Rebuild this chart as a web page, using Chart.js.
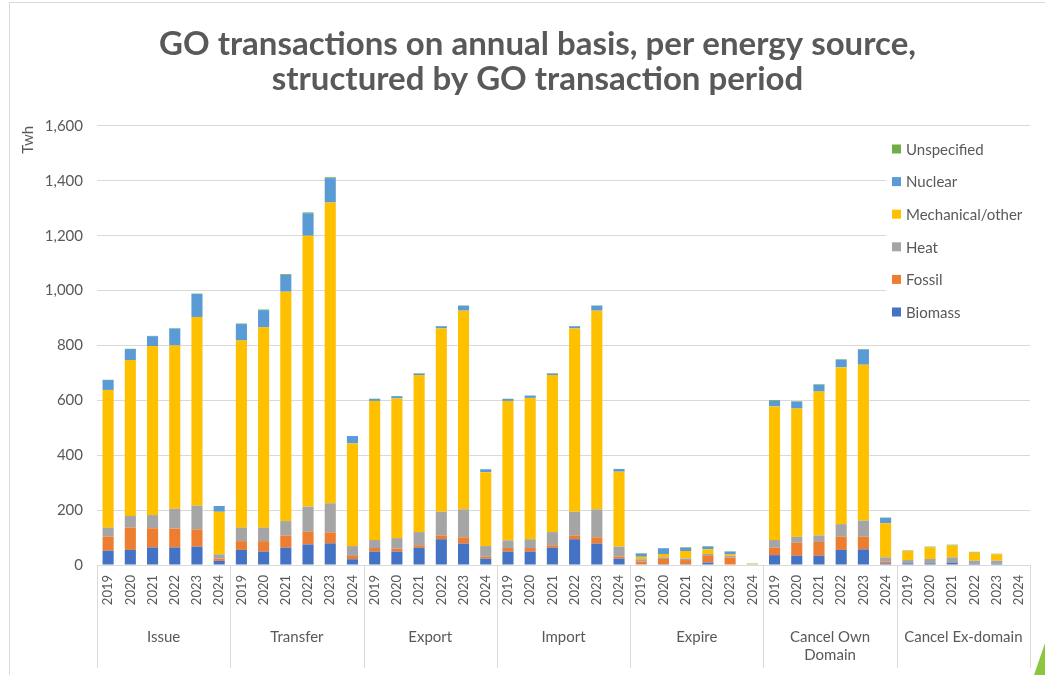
<!DOCTYPE html>
<html>
<head>
<meta charset="utf-8">
<title>GO transactions</title>
<script src="https://cdn.jsdelivr.net/npm/chart.js@4.4.1/dist/chart.umd.min.js"></script>
<style>
  html, body { margin: 0; padding: 0; background: #fff; }
  canvas { display: block; }
</style>
</head>
<body>
<canvas id="go-chart" width="1045" height="675"></canvas>
<script>
// Groups and years on the x axis
const groups = ['Issue', 'Transfer', 'Export', 'Import', 'Expire', ['Cancel Own', 'Domain'], 'Cancel Ex-domain'];
const years = ['2019', '2020', '2021', '2022', '2023', '2024'];

// TWh per energy source, 6 years per group (Issue, Transfer, Export, Import, Expire, Cancel Own, Cancel Ex)
const biomass = [
  52, 55, 64, 64, 67, 15,
  55, 49, 63, 75, 79, 21,
  49, 49, 63, 94, 78, 23,
  49, 49, 63, 94, 78, 23,
  2, 3, 3, 9, 2, 0,
  36, 34, 34, 55, 57, 6,
  6, 6, 9, 5, 5, 0
];
const fossil = [
  51, 81, 70, 69, 63, 8,
  32, 38, 44, 46, 40, 12,
  13, 11, 9, 14, 23, 7,
  13, 13, 9, 14, 23, 8,
  11, 19, 15, 24, 25, 0,
  27, 47, 50, 48, 46, 6,
  1, 1, 1, 1, 1, 0
];
const heat = [
  33, 43, 48, 72, 86, 16,
  49, 49, 53, 92, 106, 36,
  29, 38, 48, 86, 102, 39,
  28, 32, 48, 86, 102, 36,
  8, 6, 6, 7, 7, 3,
  28, 22, 24, 46, 59, 16,
  11, 15, 18, 10, 10, 0
];
const mechanical = [
  502, 568, 616, 595, 688, 155,
  682, 730, 836, 987, 1096, 374,
  507, 509, 572, 668, 724, 269,
  508, 515, 572, 668, 724, 273,
  9, 12, 27, 17, 6, 2,
  487, 467, 524, 571, 568, 124,
  33, 42, 43, 29, 23, 0
];
const nuclear = [
  36, 40, 36, 62, 84, 21,
  60, 63, 61, 82, 89, 27,
  7, 8, 6, 8, 18, 11,
  7, 8, 6, 8, 18, 10,
  12, 21, 12, 10, 9, 0,
  20, 25, 25, 28, 55, 20,
  1, 1, 1, 1, 1, 0
];
const unspecified = [
  1, 1, 1, 1, 1, 0,
  2, 2, 3, 3, 3, 0,
  1, 1, 1, 1, 1, 0,
  1, 1, 1, 1, 1, 0,
  1, 1, 2, 2, 1, 1,
  3, 2, 2, 2, 2, 1,
  1, 2, 2, 2, 1, 0
];

const textColor = '#595959';
const lineColor = '#D9D9D9';

// one year label per bar
const labels = [];
groups.forEach(() => years.forEach(y => labels.push(y)));

// Frame, group separators, legend box and the little green corner
const decorations = {
  id: 'decorations',
  beforeDraw(chart) {
    const ctx = chart.ctx;
    ctx.save();
    ctx.fillStyle = '#fff';
    ctx.fillRect(0, 0, chart.width, chart.height);
    ctx.strokeStyle = lineColor;
    ctx.lineWidth = 1;
    ctx.strokeRect(9.5, 2.5, chart.width + 20, chart.height + 20);
    ctx.restore();
  },
  afterDraw(chart) {
    const ctx = chart.ctx;
    const x = chart.scales.x;
    const half = (x.getPixelForValue(1) - x.getPixelForValue(0)) / 2;
    ctx.save();
    ctx.strokeStyle = lineColor;
    ctx.lineWidth = 1;
    for (let g = 0; g <= groups.length; g++) {
      const idx = Math.min(g * years.length, labels.length - 1);
      let px = x.getPixelForValue(idx) + (g * years.length >= labels.length ? half : -half);
      px = Math.round(px) + 0.5;
      ctx.beginPath();
      ctx.moveTo(px, chart.chartArea.bottom);
      ctx.lineTo(px, 668);
      ctx.stroke();
    }

    // legend, drawn over the plot area
    const items = chart.data.datasets.slice().reverse();
    ctx.fillStyle = '#fff';
    ctx.fillRect(886, 132, 155, 196);
    ctx.font = '15px Lato';
    ctx.textBaseline = 'middle';
    items.forEach((ds, i) => {
      const cy = 149 + i * 32.6;
      ctx.fillStyle = ds.backgroundColor;
      ctx.fillRect(892, cy - 4.5, 9, 9);
      ctx.fillStyle = textColor;
      ctx.fillText(ds.label, 906, cy + 1);
    });

    // green slide accent, bottom right
    ctx.fillStyle = '#8DC63F';
    ctx.beginPath();
    ctx.moveTo(1034, 675);
    ctx.lineTo(1045, 643);
    ctx.lineTo(1045, 675);
    ctx.closePath();
    ctx.fill();
    ctx.restore();
  }
};

const ctx = document.getElementById('go-chart').getContext('2d');
new Chart(ctx, {
  type: 'bar',
  data: {
    labels: labels,
    datasets: [
      { label: 'Biomass', data: biomass, backgroundColor: '#4472C4' },
      { label: 'Fossil', data: fossil, backgroundColor: '#ED7D31' },
      { label: 'Heat', data: heat, backgroundColor: '#A5A5A5' },
      { label: 'Mechanical/other', data: mechanical, backgroundColor: '#FFC000' },
      { label: 'Nuclear', data: nuclear, backgroundColor: '#5B9BD5' },
      { label: 'Unspecified', data: unspecified, backgroundColor: '#70AD47' }
    ]
  },
  options: {
    responsive: false,
    animation: false,
    devicePixelRatio: 1,
    // left padding keeps the title centred where the original has it
    layout: { padding: { left: 45, right: 15, top: 0, bottom: 0 } },
    datasets: {
      bar: { barPercentage: 0.5, categoryPercentage: 1.0 }
    },
    plugins: {
      legend: { display: false },
      tooltip: { enabled: false },
      title: {
        display: true,
        text: ['GO transactions on annual basis, per energy source,', 'structured by GO transaction period'],
        color: textColor,
        font: { family: 'Lato', size: 33, weight: 'bold', lineHeight: 1.06 },
        padding: { top: 27, bottom: 29 }
      }
    },
    scales: {
      x: {
        stacked: true,
        grid: { display: false, drawTicks: false },
        border: { display: true, color: lineColor },
        ticks: {
          color: textColor,
          font: { family: 'Lato', size: 13 },
          minRotation: 90,
          maxRotation: 90,
          autoSkip: false,
          padding: 10
        },
        afterFit(scale) { scale.height = 60; }
      },
      x2: {
        type: 'category',
        labels: groups,
        position: 'bottom',
        offset: true,
        grid: { display: false, drawTicks: false },
        border: { display: false },
        ticks: {
          color: textColor,
          font: { family: 'Lato', size: 15 },
          maxRotation: 0,
          autoSkip: false,
          padding: 3
        },
        afterFit(scale) { scale.height = 50; }
      },
      y: {
        stacked: true,
        min: 0,
        max: 1600,
        grid: { color: lineColor, drawTicks: false },
        border: { display: false },
        ticks: {
          stepSize: 200,
          color: textColor,
          font: { family: 'Lato', size: 15 },
          padding: 14
        },
        title: {
          display: true,
          text: 'Twh',
          align: 'end',
          color: textColor,
          font: { family: 'Lato', size: 15 },
          padding: { top: -26, bottom: 0 }
        },
        afterFit(scale) { scale.width = 52; }
      }
    }
  },
  plugins: [decorations]
});
</script>
</body>
</html>
